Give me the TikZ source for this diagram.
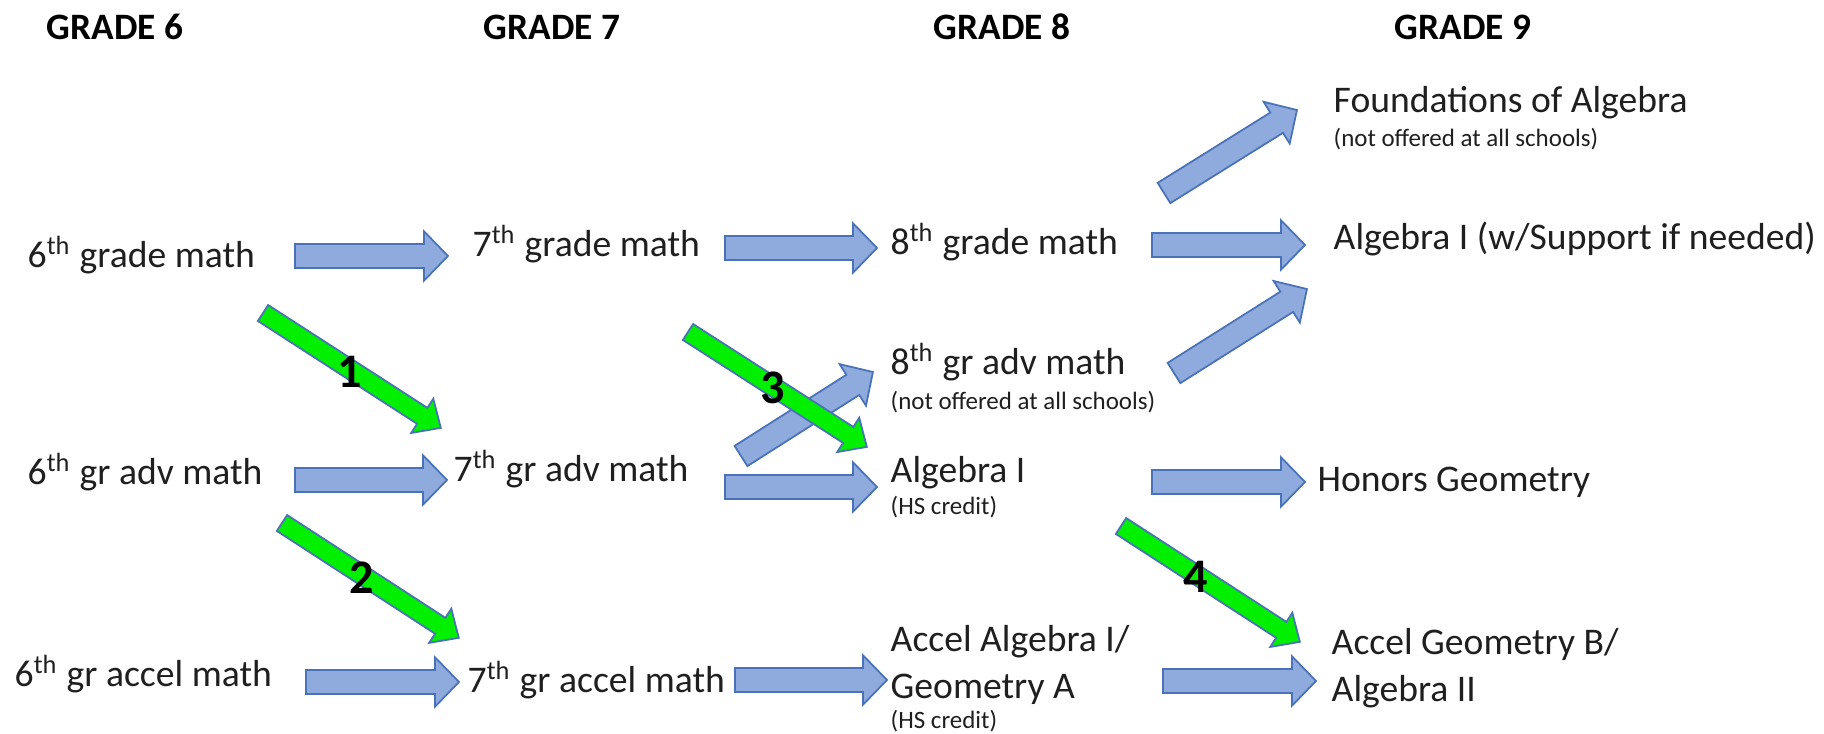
\documentclass[tikz,border=0pt]{standalone}
\usepackage{fontspec}
\setmainfont{Carlito}
\usepackage{tikz}
\usetikzlibrary{positioning,calc}
\definecolor{arrowfill}{HTML}{8FAADC}
\definecolor{arrowline}{HTML}{4A72B8}
\definecolor{pathgreen}{HTML}{00F000}
\colorlet{ctext}{black!88}
\tikzset{
  abody/.store in=\abody, ahead/.store in=\ahead, alen/.store in=\alen,
  blockarrow/.style={line width=0.5pt, line join=miter,
    to path={let \p1=(\tikztostart), \p2=(\tikztotarget),
      \n1={atan2(\y2-\y1,\x2-\x1)}, \n2={veclen(\x2-\x1,\y2-\y1)} in
      {[shift={(\p1)}, rotate=\n1]
       (0pt,{-\abody*1pt}) -- ({(\n2-\alen)*1pt},{-\abody*1pt})
       -- ({(\n2-\alen)*1pt},{-\ahead*1pt}) -- ({\n2*1pt},0pt)
       -- ({(\n2-\alen)*1pt},{\ahead*1pt}) -- ({(\n2-\alen)*1pt},{\abody*1pt})
       -- (0pt,{\abody*1pt}) -- cycle}}},
  stepblue/.style={blockarrow, fill=arrowfill, draw=arrowline, abody=3.4, ahead=7.0, alen=6.8},
  stepgreen/.style={blockarrow, fill=pathgreen, draw=arrowline, abody=2.7, ahead=5.8, alen=6.3},
  txt/.style={font=\fontsize{10.7}{13.4}\selectfont, text=ctext, inner sep=0pt, anchor=base west, align=left},
  note/.style={font=\fontsize{7.1}{8.5}\selectfont, text=ctext, inner sep=0pt, anchor=base west},
  grade/.style={font=\bfseries\fontsize{10.6}{12}\selectfont, inner sep=0pt, anchor=base},
  pathnum/.style={font=\bfseries\fontsize{13.7}{16}\selectfont, inner sep=0pt},
}

\begin{document}
\begin{tikzpicture}[x=0.01cm, y=-0.01cm]
\useasboundingbox (0,0) rectangle (1824,734);

% column headings
\node[grade] (hd6) at (115,40) {GRADE 6};
\node[grade] (hd7) at (552,40) {GRADE 7};
\node[grade] (hd8) at (1002,40) {GRADE 8};
\node[grade] (hd9) at (1463,40) {GRADE 9};

% courses (two-line nodes sit on the baseline of their last line)
\node[txt] (g6a) at (27,268) {6\textsuperscript{th} grade math};
\node[txt] (g6b) at (27,485) {6\textsuperscript{th} gr adv math};
\node[txt] (g6c) at (14,687) {6\textsuperscript{th} gr accel math};
\node[txt] (g7a) at (472,257) {7\textsuperscript{th} grade math};
\node[txt] (g7b) at (453,482) {7\textsuperscript{th} gr adv math};
\node[txt] (g7c) at (467,693) {7\textsuperscript{th} gr accel math};
\node[txt] (g8a) at (890,255) {8\textsuperscript{th} grade math};
\node[txt] (g8b) at (890,375) {8\textsuperscript{th} gr adv math};
\node[note] (g8bn) at (890,410) {(not offered at all schools)};
\node[txt] (g8c) at (890,483) {Algebra I};
\node[note] (g8cn) at (890,515) {(HS credit)};
\node[txt] (g8d) at (890,699) {Accel Algebra I/\\Geometry A};
\node[note] (g8dn) at (890,729) {(HS credit)};
\node[txt] (g9a) at (1333,113) {Foundations of Algebra};
\node[note] (g9an) at (1333,147) {(not offered at all schools)};
\node[txt] (g9b) at (1333,250) {Algebra I (w/Support if needed)};
\node[txt] (g9c) at (1317,492) {Honors Geometry};
\node[txt] (g9d) at (1331,702) {Accel Geometry B/\\Algebra II};

% arrow ends
\foreach \arw/\xa/\ya/\xb/\yb in {
    67a/295/256/448/256, 78a/725/248/877/248, 89a/1152/245/1305/245,
    67b/295/480/447/480, 78b/725/487/877/487, 89b/1152/482/1305/482,
    67c/306/682/459/682, 78c/735/680/887/680, 89c/1163/681/1316/681,
    fnd/1164/193/1297/110, sup/1174/373/1307/289, adv/741/456/873/372,
    jmp1/263/313/441/428, jmp2/282/523/459/638,
    jmp3/688/332/867/447, jmp4/1121/526/1300/642} {
  \coordinate (\arw-s) at (\xa,\ya);
  \coordinate (\arw-e) at (\xb,\yb);
}

\foreach \arw in {67a,78a,89a,67b,78b,89b,67c,78c,89c,fnd,sup,adv}
  \draw[stepblue] (\arw-s) to (\arw-e);
\foreach \arw in {jmp1,jmp2,jmp3,jmp4}
  \draw[stepgreen] (\arw-s) to (\arw-e);

% acceleration points
\node[pathnum] (num1) at (350,372) {1};
\node[pathnum] (num2) at (362,578) {2};
\node[pathnum] (num3) at (773,388) {3};
\node[pathnum] (num4) at (1196,577) {4};
\end{tikzpicture}
\end{document}
